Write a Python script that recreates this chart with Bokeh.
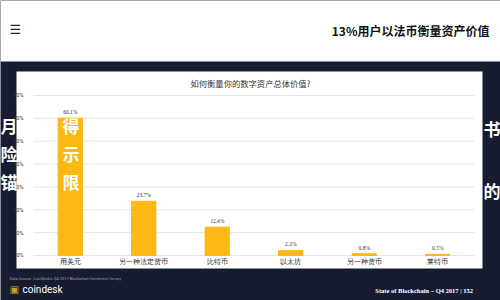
from bokeh.plotting import figure
from bokeh.models import (Range1d, FixedTicker, BoxAnnotation, Label, LinearAxis,
                          ColumnDataSource, LabelSet, PrintfTickFormatter)
from bokeh.embed import file_html
from bokeh.resources import INLINE

# ---- data ----
categories = ["用美元", "另一种法定货币", "比特币", "以太坊", "另一种货币", "莱特币"]
shares = [60.1, 23.7, 12.4, 2.2, 0.8, 0.5]
share_labels = ["60.1%", "23.7%", "12.4%", "2.2%", "0.8%", "0.5%"]
y_ticks = [0, 10, 20, 30, 40, 50, 60, 70]

title_text = "如何衡量你的数字资产总体价值?"
header_text = "13%用户以法币衡量资产价值"
source_text = "Data Source: CoinDesk's Q4 2017 Blockchain Sentiment Survey"
footer_text = "State of Blockchain – Q4 2017   |   152"

NAVY = "#181c31"
YELLOW = "#fdb913"
CJK = "Noto Sans CJK SC"

idx = list(range(len(categories)))
src = ColumnDataSource(dict(x=idx, val=shares, lab=share_labels, cat=categories))

# frame covers the whole canvas; ranges chosen so the chart area sits in the white panel
p = figure(width=500, height=300,
           x_range=Range1d(-0.949, 5.854),
           y_range=Range1d(-19.69, 111.56),
           output_backend="svg", toolbar_location=None,
           x_axis_location=None, y_axis_location=None,
           min_border=0, border_fill_color=NAVY, background_fill_color=NAVY,
           outline_line_color=None)
p.xgrid.grid_line_color = None
p.ygrid.grid_line_color = None

def box(l, r, t, b, color):
    p.add_layout(BoxAnnotation(left=l, right=r, top=t, bottom=b,
                               left_units="canvas", right_units="canvas",
                               top_units="canvas", bottom_units="canvas",
                               fill_color=color, fill_alpha=1, line_color=None,
                               level="image"))

box(0, 500, 0, 61, "white")
box(16, 482, 71, 268, "white")

# horizontal gridlines at the y ticks across the category span
p.segment(x0=-0.5, x1=len(categories) - 0.5, y0=y_ticks, y1=y_ticks,
          line_color="#e6e6e6", line_width=1)

p.vbar(x="x", top="val", width=0.33, source=src, color=YELLOW)
p.add_layout(LabelSet(x="x", y="val", text="lab", source=src, y_offset=3,
                      text_align="center", text_baseline="bottom",
                      text_font_size="5.5px", text_color="#333",
                      text_font="Roboto"))

# category labels under the bars
p.add_layout(LabelSet(x="x", y=0, text="cat", source=src, y_offset=-7,
                      text_align="center", text_baseline="middle",
                      text_font_size="7px", text_color="#222",
                      text_font=CJK))

yaxis = LinearAxis(fixed_location=-0.5, ticker=FixedTicker(ticks=y_ticks),
                   formatter=PrintfTickFormatter(format="%d%%"),
                   major_label_text_font_size="5.5px", major_label_text_color="#333",
                   major_label_text_font="Roboto", major_label_standoff=4,
                   axis_line_color=None, major_tick_line_color=None,
                   minor_tick_line_color=None)
p.add_layout(yaxis, "left")

def lab(x, y, text, **kw):
    p.add_layout(Label(x=x, y=y, text=text, x_units="canvas", y_units="canvas", **kw))

lab(250, 82, title_text, text_align="center", text_baseline="middle",
    text_font=CJK, text_font_size="8.3px", text_color="#333")
lab(489, 30, header_text, text_align="right", text_baseline="middle",
    text_font=CJK, text_font_size="12px", text_font_style="bold", text_color="#111")
lab(9, 29, "☰", text_align="left", text_baseline="middle",
    text_font="DejaVu Sans", text_font_size="13px", text_color="#222")
lab(9, 278, source_text, text_align="left", text_baseline="middle",
    text_font="Roboto", text_font_size="4px", text_color="#9a9cab")
lab(22, 289, "coindesk", text_align="left", text_baseline="middle",
    text_font="Roboto", text_font_size="10px", text_color="white")
lab(9, 289, "▣", text_align="left", text_baseline="middle",
    text_font="DejaVu Sans", text_font_size="10px", text_color="#c9a227")
lab(479, 290, footer_text, text_align="right", text_baseline="middle",
    text_font="Liberation Serif", text_font_size="6.5px", text_font_style="bold",
    text_color="white")

# overlaid white page text
for x, y, t in [(0, 125, "月"), (62, 125, "得"), (0, 153, "险"), (62, 153, "示"),
                (0, 181, "锚"), (62, 181, "限"), (483, 128, "书"), (483, 190, "的")]:
    lab(x, y, t, text_align="left", text_baseline="middle", text_font=CJK,
        text_font_size="17px", text_font_style="bold", text_color="white",
        level="overlay")

open("out.html", "w").write(file_html(p, INLINE))
